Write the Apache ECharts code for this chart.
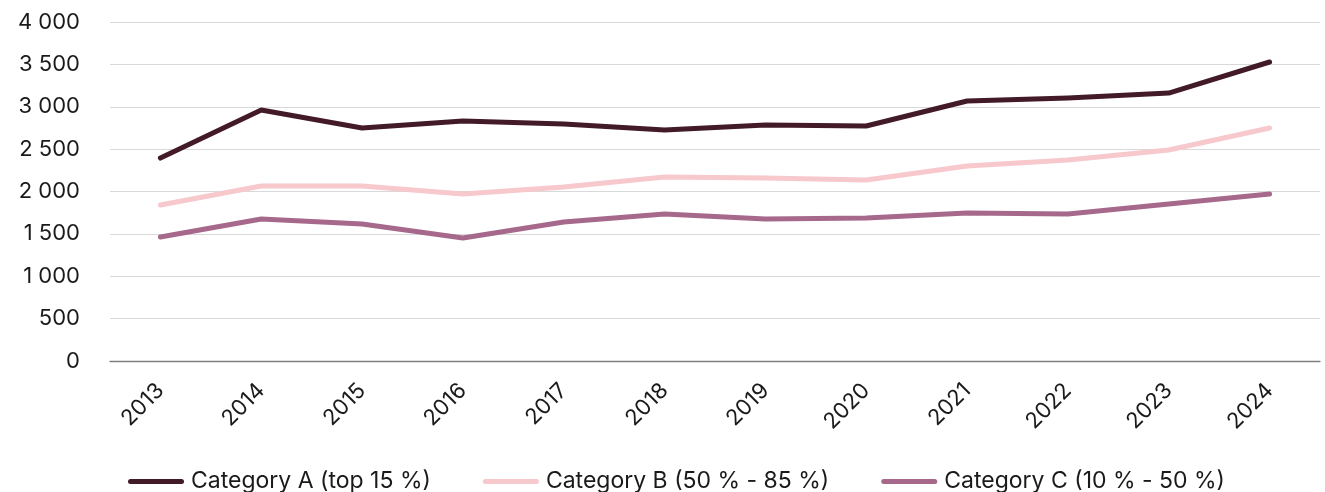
<!DOCTYPE html>
<html>
<head>
<meta charset="utf-8">
<script src="https://cdn.jsdelivr.net/npm/echarts@6/dist/echarts.min.js"></script>
<style>
  html, body { margin: 0; padding: 0; background: #ffffff; }
  #chart { width: 1325px; height: 492px; }
</style>
</head>
<body>
<div id="chart"></div>
<script>
// Years on the horizontal axis
const years = ['2013', '2014', '2015', '2016', '2017', '2018', '2019', '2020', '2021', '2022', '2023', '2024'];

// Series values
const categoryA = [2395, 2962, 2749, 2832, 2796, 2726, 2785, 2773, 3068, 3103, 3162, 3528];
const categoryB = [1841, 2065, 2065, 1970, 2053, 2171, 2159, 2136, 2301, 2372, 2490, 2749];
const categoryC = [1463, 1676, 1617, 1451, 1640, 1735, 1676, 1687, 1746, 1735, 1853, 1970];

const seriesNames = ['Category A (top 15 %)', 'Category B (50 % - 85 %)', 'Category C (10 % - 50 %)'];
const colors = ['#421a28', '#f7c8cc', '#a6698c'];

const fontFamily = 'Inter, "Liberation Sans", sans-serif';

function thousands(v) {
  return String(v).replace(/\B(?=(\d{3})+(?!\d))/g, ' ');
}

// Legend swatch: a thick stroke with rounded ends
const legendIcon = 'path://M2.5,0 L53.5,0 A2.5,2.5 0 0 1 53.5,5 L2.5,5 A2.5,2.5 0 0 1 2.5,0 Z';

const chart = echarts.init(document.getElementById('chart'), null, { renderer: 'canvas' });

const lineSeries = [categoryA, categoryB, categoryC].map((data, i) => ({
  name: seriesNames[i],
  type: 'line',
  data: data,
  symbol: 'none',
  lineStyle: { width: 5, color: colors[i], cap: 'round', join: 'round' },
  itemStyle: { color: colors[i] },
  z: 3 - i
}));

chart.setOption({
  animation: false,
  backgroundColor: '#ffffff',
  textStyle: { fontFamily: fontFamily },
  grid: { left: 110, right: 5, top: 22, bottom: 131, containLabel: false },
  legend: {
    left: 128,
    top: 470,
    padding: 0,
    itemWidth: 56,
    itemHeight: 5,
    itemGap: 52,
    icon: legendIcon,
    textStyle: { fontSize: 23, color: '#1a1a1a', fontFamily: fontFamily, padding: [0, 0, 0, 2] },
    data: seriesNames
  },
  xAxis: {
    type: 'category',
    data: years,
    boundaryGap: true,
    axisLine: { show: true, lineStyle: { color: '#7f7f7f', width: 1.3 } },
    axisTick: { show: false },
    axisLabel: {
      rotate: 45,
      fontSize: 22,
      color: '#1a1a1a',
      margin: 26,
      interval: 0
    }
  },
  yAxis: {
    type: 'value',
    min: 0,
    max: 4000,
    interval: 500,
    axisLine: { show: false },
    axisTick: { show: false },
    splitLine: { lineStyle: { color: '#d9d9d9', width: 1 } },
    axisLabel: {
      fontSize: 22,
      color: '#1a1a1a',
      margin: 30,
      formatter: thousands
    }
  },
  series: lineSeries
});
</script>
</body>
</html>
